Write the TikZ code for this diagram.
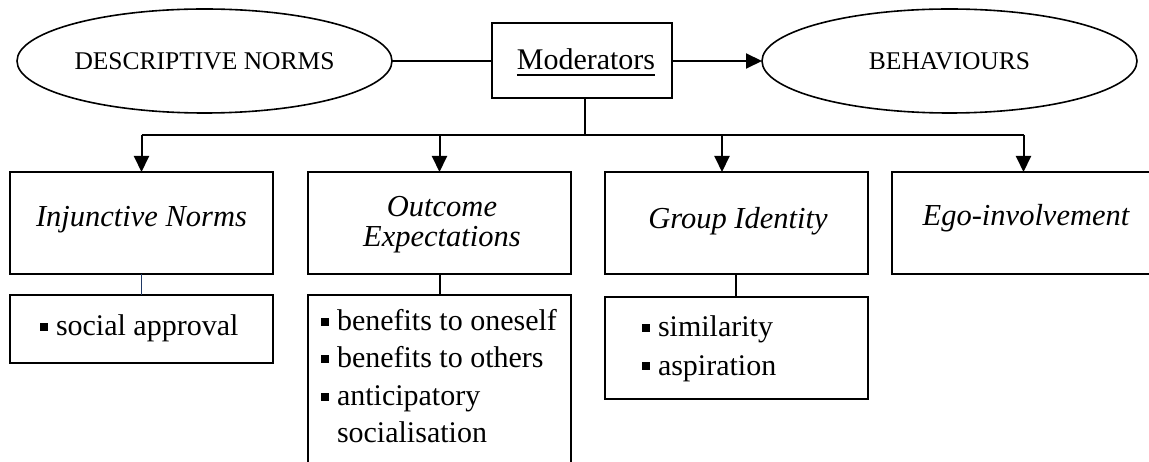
\documentclass[tikz,border=0pt]{standalone}
\usepackage{fontspec}
\setmainfont{Liberation Serif}
\usetikzlibrary{arrows.meta,shapes.geometric,calc}
\definecolor{navy}{RGB}{31,56,100}
\newcommand\sqb{\rule[5pt]{8pt}{8pt}\hspace{8pt}}
\newcommand\myul[1]{\setbox0\hbox{#1}\rlap{\rule[-6pt]{\wd0}{1.8pt}}\box0}
\begin{document}
\begin{tikzpicture}[x=1pt,y=-1pt,
  every node/.style={inner sep=0pt, outer sep=0pt},
  oval/.style={ellipse, draw, line width=1.6pt, minimum width=375pt, minimum height=104pt, font=\fontsize{25.5}{30}\selectfont},
  box/.style={draw, line width=2pt, minimum width=263pt},
  lab/.style={font=\fontsize{30.5}{30}\selectfont\itshape, anchor=base},
  item/.style={font=\fontsize{30}{37}\selectfont, anchor=base west},
  line/.style={line width=2pt},
  arr/.style={line width=2pt, -{Triangle[length=16pt,width=15pt]}}]
\useasboundingbox (0,0) rectangle (1149,462);
\node[oval] (desc) at (204.5,61) {DESCRIPTIVE NORMS};
\node[draw, line width=2pt, minimum width=180pt, minimum height=75pt] (mod) at (582,61) {};
\node[font=\fontsize{30}{30}\selectfont, anchor=base] (modt) at (586,70) {\myul{Moderators}};
\node[oval] (beh) at (949.5,61) {BEHAVIOURS};
\draw[line] (desc.east) -- (mod.west);
\draw[arr] (mod.east) -- (beh.west);
% upper boxes
\node[box, minimum height=102pt] (inj) at (141.5,223) {};
\node[box, minimum height=102pt] (out) at (439.5,223) {};
\node[box, minimum height=102pt] (grp) at (736,223) {};
\node[box, minimum height=102pt] (ego) at (1023.5,223) {};
\coordinate (bus) at (585,135);
\coordinate (ga) at (722,172);
\draw[line] (mod.south -| bus) -- (bus);
\draw[line] (inj.north |- bus) -- (ego.north |- bus);
\draw[arr] (inj.north |- bus) -- (inj.north);
\draw[arr] (out.north |- bus) -- (out.north);
\draw[arr] (ga |- bus) -- (ga);
\draw[arr] (ego.north |- bus) -- (ego.north);
\node[lab] (injt) at (141.5,227) {Injunctive Norms};
\node[lab] (outt1) at (442,217) {Outcome};
\node[lab] (outt2) at (442,247) {Expectations};
\node[lab] (grpt) at (738,229) {Group Identity};
\node[lab] (egot) at (1026,226) {Ego-involvement};
% lower boxes
\node[box, minimum height=68pt] (soc) at (141.5,329) {};
\node[box, minimum height=175pt] (outl) at (439.5,382.5) {};
\node[box, minimum height=102pt] (grpl) at (736,348) {};
\draw[line width=1.4pt, navy] (inj.south) -- (soc.north);
\draw[line] (out.south) -- (outl.north);
\draw[line] (grp.south) -- (grpl.north);
\node[item] (s1) at (40,336) {\sqb social approval};
\node[item] (o1) at (321,331) {\sqb benefits to oneself};
\node[item] (o2) at (321,368) {\sqb benefits to others};
\node[item] (o3) at (321,406) {\sqb anticipatory};
\node[item] (o4) at (337,442) {socialisation};
\node[item] (g1) at (642,337) {\sqb similarity};
\node[item] (g2) at (642,375) {\sqb aspiration};
\end{tikzpicture}
\end{document}
